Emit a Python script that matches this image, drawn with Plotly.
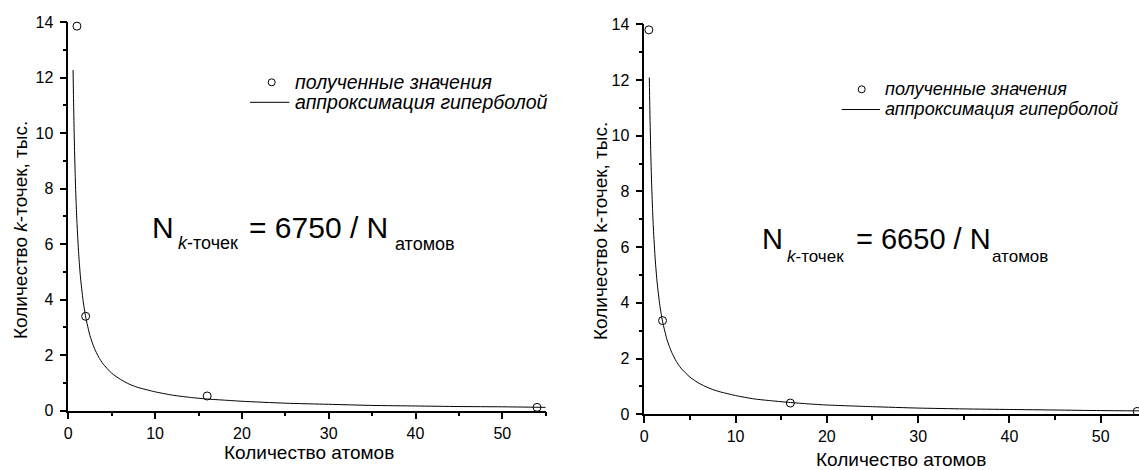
import plotly.graph_objects as go

W, H = 1139, 470

# ---------------- data (values in thousands) ----------------
left_pts_x = [1, 2, 16, 54]
left_pts_y = [13.85, 3.4, 0.53, 0.12]
left_fit_x = [0.55, 0.6, 0.7, 0.8, 0.9, 1.0, 1.2, 1.4, 1.7, 2.0, 2.5, 3.0, 3.5, 4, 5, 6, 7, 8,
              10, 12, 14, 16, 18, 20, 25, 30, 35, 40, 45, 50, 55]
left_fit_y = [12.27, 11.25, 9.64, 8.44, 7.5, 6.75, 5.63, 4.82, 3.97, 3.38, 2.7, 2.25, 1.93, 1.69,
              1.35, 1.13, 0.96, 0.84, 0.68, 0.56, 0.48, 0.42, 0.38, 0.34, 0.27, 0.23, 0.19, 0.17,
              0.15, 0.14, 0.12]

right_pts_x = [0.5, 2, 16, 54]
right_pts_y = [13.8, 3.36, 0.4, 0.1]
right_fit_x = [0.55, 0.6, 0.7, 0.8, 0.9, 1.0, 1.2, 1.4, 1.7, 2.0, 2.5, 3.0, 3.5, 4, 5, 6, 7, 8,
               10, 12, 14, 16, 18, 20, 25, 30, 35, 40, 45, 50, 54.2]
right_fit_y = [12.09, 11.08, 9.5, 8.31, 7.39, 6.65, 5.54, 4.75, 3.91, 3.33, 2.66, 2.22, 1.9, 1.66,
               1.33, 1.11, 0.95, 0.83, 0.67, 0.55, 0.48, 0.42, 0.37, 0.33, 0.27, 0.22, 0.19, 0.17,
               0.15, 0.13, 0.12]

x_ticks = [0, 10, 20, 30, 40, 50]
y_ticks = [0, 2, 4, 6, 8, 10, 12, 14]

legend_pts = "полученные значения"
legend_fit = "аппроксимация гиперболой"
x_title = "Количество атомов"
y_title_left = "Количество <i>k</i>-точек, тыс."
y_title_right = "Количество k-точек, тыс."
coef_left = "6750"
coef_right = "6650"

FONT = "Liberation Sans, Arial, sans-serif"


def px(x):
    return x / W


def py(y):
    return 1 - y / H


fig = go.Figure()
fig.add_trace(go.Scatter(x=left_pts_x, y=left_pts_y, mode="markers", name=legend_pts,
                         marker=dict(symbol="circle-open", size=8, color="black", line=dict(width=1)),
                         xaxis="x", yaxis="y", cliponaxis=False))
fig.add_trace(go.Scatter(x=left_fit_x, y=left_fit_y, mode="lines", name=legend_fit,
                         line=dict(color="black", width=1, shape="spline", smoothing=0.6),
                         xaxis="x", yaxis="y"))
fig.add_trace(go.Scatter(x=right_pts_x, y=right_pts_y, mode="markers", name=legend_pts,
                         marker=dict(symbol="circle-open", size=8, color="black", line=dict(width=1)),
                         xaxis="x2", yaxis="y2", cliponaxis=False))
fig.add_trace(go.Scatter(x=right_fit_x, y=right_fit_y, mode="lines", name=legend_fit,
                         line=dict(color="black", width=1, shape="spline", smoothing=0.6),
                         xaxis="x2", yaxis="y2"))

axis_common = dict(showline=True, linecolor="black", linewidth=1.5, showgrid=False, zeroline=False,
                   ticks="outside", ticklen=7, tickwidth=1.5, tickcolor="black",
                   tickfont=dict(family=FONT, size=16, color="black"), automargin=False)
minor_x = dict(dtick=5, tick0=0, ticks="outside", ticklen=4, tickwidth=1.5, tickcolor="black")
minor_y = dict(dtick=1, tick0=0, ticks="outside", ticklen=4, tickwidth=1.5, tickcolor="black")

fig.update_layout(
    width=W, height=H, autosize=False,
    margin=dict(l=0, r=0, t=0, b=0, pad=0, autoexpand=False),
    paper_bgcolor="white", plot_bgcolor="white", showlegend=False,
    font=dict(family=FONT, color="black"),
    xaxis=dict(domain=[px(68.3), px(545.7)], range=[0, 55], anchor="y",
               tickvals=x_ticks, minor=minor_x, **axis_common),
    yaxis=dict(domain=[py(410.7), py(22)], range=[0, 14], anchor="x",
               tickvals=y_ticks, minor=minor_y, ticklabelstandoff=3, **axis_common),
    xaxis2=dict(domain=[px(644.3), 1.0], range=[0, 54.2], anchor="y2",
                tickvals=x_ticks, minor=minor_x, **axis_common),
    yaxis2=dict(domain=[py(414.2), py(24.3)], range=[0, 14], anchor="x2",
                tickvals=y_ticks, minor=minor_y, ticklabelstandoff=3, **axis_common),
)

annotations = []
shapes = []


def add_text(text, x, y, size, xanchor="left", yanchor="middle", angle=0, italic=False):
    if xanchor == "left":
        x -= 1.5
    annotations.append(dict(text=text, x=px(x), y=py(y), xref="paper", yref="paper",
                            xanchor=xanchor, yanchor=yanchor, showarrow=False, textangle=angle,
                            borderpad=0, borderwidth=0,
                            font=dict(family=FONT, size=size, color="black",
                                      style="italic" if italic else "normal")))


def add_legend(cx, cy1, lx0, lx1, cy2, tx, size):
    shapes.append(dict(type="circle", xref="paper", yref="paper",
                       x0=px(cx - 3.5), x1=px(cx + 3.5), y0=py(cy1 + 3.5), y1=py(cy1 - 3.5),
                       line=dict(color="black", width=1)))
    shapes.append(dict(type="line", xref="paper", yref="paper",
                       x0=px(lx0), x1=px(lx1), y0=py(cy2), y1=py(cy2),
                       line=dict(color="black", width=1)))
    add_text(legend_pts, tx, cy1, size, italic=True)
    add_text(legend_fit, tx, cy2, size, italic=True)


# legends
add_legend(271.7, 82.3, 250, 289.3, 102.3, 296.7, 19.5)
add_legend(861.7, 89.3, 841.7, 880, 109.5, 886, 18)

# axis titles
add_text(x_title, 309, 452, 19, xanchor="center")
add_text(y_title_left, 21, 230, 19, xanchor="center", angle=-90)
add_text(x_title, 901, 470, 19, xanchor="center", yanchor="bottom")
add_text(y_title_right, 600, 231, 19, xanchor="center", angle=-90)

# equations
add_text("N", 153, 227, 30)
add_text("<i>k</i>-точек", 179, 243, 18)
add_text("= " + coef_left + " / N", 250, 227, 30)
add_text("атомов", 396, 244, 18)

add_text("N", 763, 239, 29)
add_text("<i>k</i>-точек", 788, 256, 17)
add_text("= " + coef_right + " / N", 857, 239, 29)
add_text("атомов", 993, 256, 17)

fig.update_layout(annotations=annotations, shapes=shapes)
fig.write_html("out.html", config={"displayModeBar": False},
               post_script="document.body.style.margin='0';document.body.style.overflow='hidden';")
